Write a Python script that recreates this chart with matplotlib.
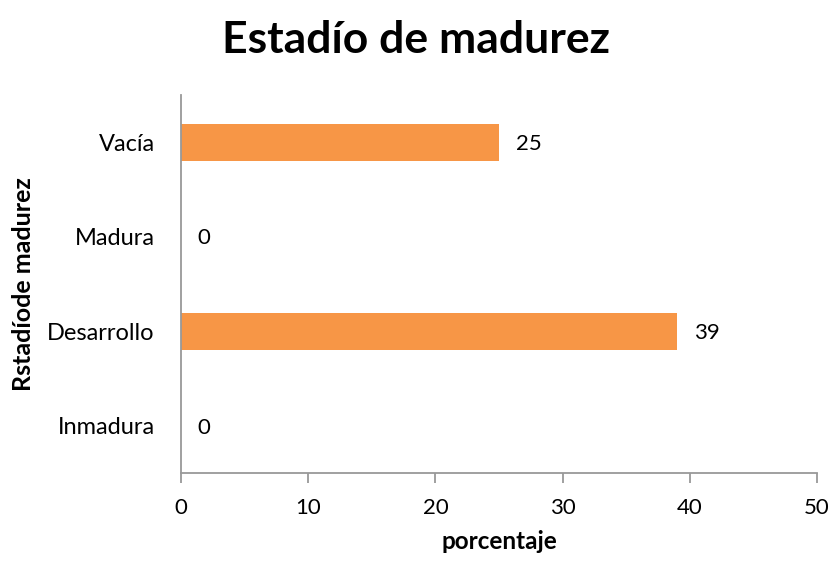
import matplotlib
matplotlib.use("Agg")
import matplotlib.pyplot as plt

categories = ["Inmadura", "Desarrollo", "Madura", "Vacía"]
values = [0, 39, 0, 25]
xticks = [0, 10, 20, 30, 40, 50]

plt.rcParams['font.family'] = ['Lato', 'DejaVu Sans']

fig = plt.figure(figsize=(8.32, 5.61), dpi=100)
ax = fig.add_axes([0.2175, 0.157, 0.7645, 0.674])

ypos = list(range(len(categories)))
ax.barh(ypos, values, height=0.39, color="#F79646")
for y, v in zip(ypos, values):
    ax.text(v + 1.3, y - 0.02, str(v), va="center", ha="left", fontsize=16, color="#000000")

ax.set_xlim(0, 50)
ax.set_ylim(-0.5, 3.5)
ax.set_yticks(ypos)
ax.set_yticklabels(categories, fontsize=17)
ax.set_xticks(xticks)
ax.set_xticklabels([str(t) for t in xticks], fontsize=16)
ax.tick_params(axis="y", length=0, pad=19)
ax.tick_params(axis="x", length=7, width=1.3, color="#999999", direction="out", pad=11)

for s in ["top", "right"]:
    ax.spines[s].set_visible(False)
for s in ["left", "bottom"]:
    ax.spines[s].set_color("#999999")
    ax.spines[s].set_linewidth(1.3)

ax.set_xlabel("porcentaje", fontsize=17.5, fontweight="bold", labelpad=9)
ax.set_ylabel("Rstadíode madurez", fontsize=18, fontweight="bold", labelpad=9)
fig.suptitle("Estadío de madurez", fontsize=32, fontweight="bold", x=0.5, y=0.965)

fig.savefig("out.png", dpi=100)
